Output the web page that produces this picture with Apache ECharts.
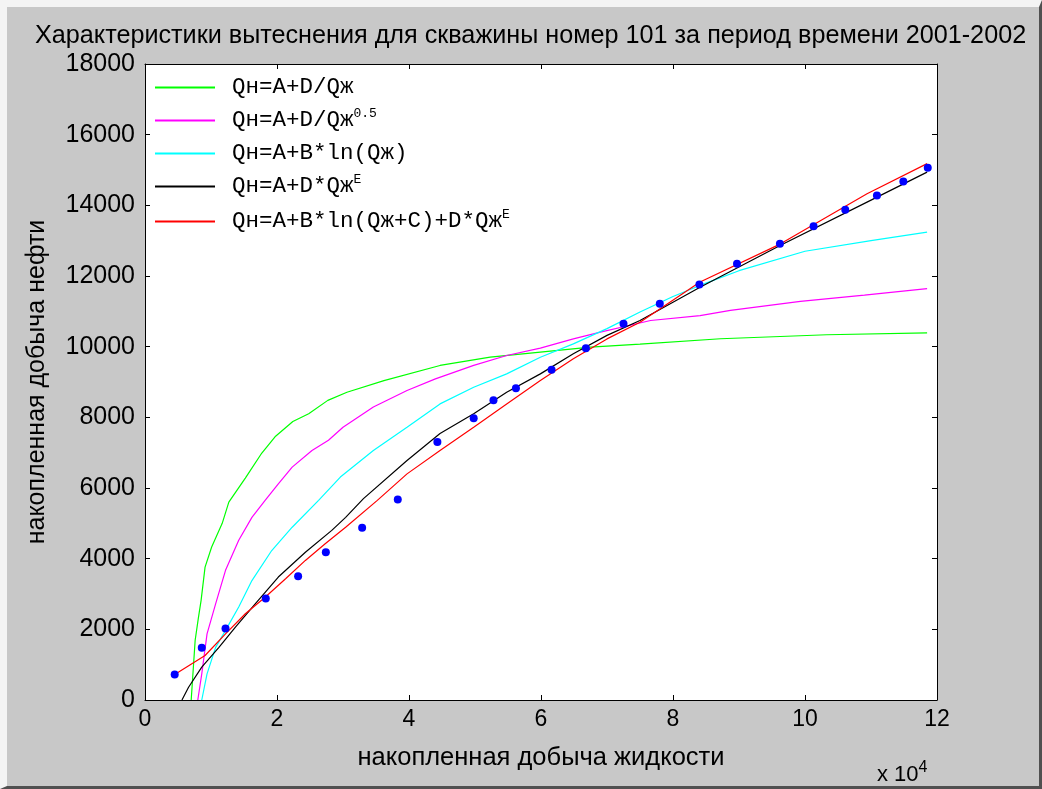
<!DOCTYPE html>
<html>
<head>
<meta charset="UTF-8">
<title>Характеристики вытеснения</title>
<script src="https://cdn.jsdelivr.net/npm/echarts@6/dist/echarts.min.js"></script>
<style>
html, body { margin: 0; padding: 0; }
#frame {
    position: absolute; left: 0; top: 0; width: 1042px; height: 789px;
    box-sizing: border-box; background: #c8c8c8;
    border-top: 7px solid #f4f4f4; border-left: 7px solid #f4f4f4;
    border-right: 3px solid #505050; border-bottom: 3px solid #505050;
}
#chart { position: absolute; left: 0; top: 0; width: 1042px; height: 789px; }
</style>
</head>
<body>
<div id="frame"></div>
<div id="chart"></div>
<script>
// ось X в единицах 10^4
const legendNames = ['Qн=A+D/Qж', 'Qн=A+D/Qж^0.5', 'Qн=A+B*ln(Qж)', 'Qн=A+D*Qж^E', 'Qн=A+B*ln(Qж+C)+D*Qж^E'];
const xTicks = [0, 2, 4, 6, 8, 10, 12];
const yTicks = [0, 2000, 4000, 6000, 8000, 10000, 12000, 14000, 16000, 18000];

// фактические точки
const factX = [0.45, 0.86, 1.22, 1.83, 2.32, 2.74, 3.29, 3.83, 4.43, 4.98, 5.28, 5.62, 6.16, 6.68, 7.25, 7.80, 8.40, 8.97, 9.62, 10.13, 10.61, 11.09, 11.49, 11.86];
const factY = [720, 1477, 2024, 2873, 3504, 4183, 4874, 5675, 7302, 7976, 8486, 8825, 9346, 9958, 10648, 11214, 11760, 12346, 12912, 13410, 13875, 14280, 14676, 15064];

// кривые аппроксимации
const greenX = [0.70, 0.76, 0.81, 0.85, 0.91, 1.01, 1.17, 1.27, 1.52, 1.77, 1.97, 2.24, 2.48, 2.77, 3.06, 3.62, 4.47, 5.23, 5.99, 6.75, 7.50, 8.72, 10.33, 11.85];
const greenY = [0, 1690, 2340, 2820, 3760, 4330, 5000, 5600, 6280, 6990, 7450, 7880, 8100, 8480, 8710, 9040, 9468, 9703, 9844, 9986, 10070, 10224, 10337, 10393];

const magentaX = [0.80, 0.86, 0.94, 1.07, 1.22, 1.42, 1.62, 1.82, 2.02, 2.23, 2.53, 2.78, 3.00, 3.46, 3.97, 4.40, 4.98, 5.48, 5.99, 6.49, 6.90, 7.66, 8.41, 8.87, 9.93, 10.90, 11.85];
const magentaY = [0, 740, 1870, 2720, 3670, 4520, 5170, 5650, 6120, 6590, 7060, 7350, 7720, 8290, 8760, 9090, 9470, 9750, 9960, 10220, 10410, 10740, 10880, 11025, 11280, 11460, 11640];

const cyanX = [0.86, 0.94, 1.07, 1.22, 1.42, 1.62, 1.92, 2.23, 2.63, 2.96, 3.46, 3.97, 4.47, 4.98, 5.48, 5.99, 6.49, 7.00, 7.50, 8.00, 8.50, 9.00, 10.00, 11.00, 11.85];
const cyanY = [0, 740, 1490, 1970, 2630, 3380, 4230, 4890, 5650, 6310, 7060, 7720, 8380, 8850, 9230, 9700, 10080, 10510, 10980, 11420, 11800, 12150, 12700, 13000, 13240];

const blackX = [0.56, 0.66, 0.86, 1.12, 1.37, 1.67, 2.02, 2.43, 2.83, 3.04, 3.31, 3.97, 4.47, 4.98, 5.48, 5.99, 6.49, 7.00, 7.50, 8.41, 9.63, 10.94, 11.85];
const blackY = [0, 360, 930, 1490, 2060, 2720, 3480, 4180, 4800, 5170, 5700, 6780, 7540, 8100, 8710, 9230, 9800, 10320, 10740, 11680, 12870, 14090, 14940];

const redX = [0.45, 0.71, 0.91, 1.22, 1.52, 1.82, 2.13, 2.43, 2.73, 3.04, 3.52, 3.97, 4.47, 4.98, 5.48, 5.99, 6.49, 7.00, 7.50, 8.41, 9.63, 10.94, 11.85];
const redY = [722, 1025, 1260, 1870, 2440, 2910, 3430, 3950, 4420, 4890, 5650, 6400, 7060, 7720, 8380, 9040, 9660, 10220, 10690, 11830, 12910, 14330, 15180];

const zip = (xs, ys) => xs.map((x, i) => [x, ys[i]]);

const legendRich = {
    'Qн=A+D/Qж': '{t|Qн=A+D/Qж}',
    'Qн=A+D/Qж^0.5': '{t|Qн=A+D/Qж}{s|0.5}',
    'Qн=A+B*ln(Qж)': '{t|Qн=A+B*ln(Qж)}',
    'Qн=A+D*Qж^E': '{t|Qн=A+D*Qж}{s|E}',
    'Qн=A+B*ln(Qж+C)+D*Qж^E': '{t|Qн=A+B*ln(Qж+C)+D*Qж}{s|E}'
};

const chart = echarts.init(document.getElementById('chart'));
const sans = 'Liberation Sans';
const mono = 'Liberation Mono';

function lineSeries(name, color, xs, ys) {
    return {
        name: name, type: 'line', data: zip(xs, ys),
        symbol: 'none', smooth: false, animation: false,
        lineStyle: { color: color, width: 1.2 }, itemStyle: { color: color }
    };
}

chart.setOption({
    backgroundColor: 'transparent',
    animation: false,
    title: {
        text: 'Характеристики вытеснения для скважины номер 101 за период времени 2001-2002',
        left: 30, top: 19,
        textStyle: { fontFamily: sans, fontSize: 25.2, fontWeight: 'normal', color: '#000' }
    },
    grid: { left: 145, right: 105, top: 64, bottom: 89 },
    legend: {
        data: legendNames,
        orient: 'vertical', left: 155, top: 76, padding: 0,
        itemWidth: 60, itemHeight: 2, itemGap: 8, icon: 'rect',
        formatter: name => legendRich[name],
        textStyle: {
            padding: [0, 0, 0, 12],
            rich: {
                t: { fontFamily: mono, fontSize: 22.5, color: '#000', lineHeight: 28 },
                s: { fontFamily: mono, fontSize: 13, color: '#000', lineHeight: 14, padding: [0, 0, 14, 0] }
            }
        }
    },
    xAxis: [{
        type: 'value', min: xTicks[0], max: xTicks[xTicks.length - 1], interval: 2, position: 'bottom',
        name: 'накопленная добыча жидкости', nameLocation: 'middle', nameGap: 45,
        nameTextStyle: { fontFamily: sans, fontSize: 25.5, color: '#000' },
        axisLine: { onZero: false, lineStyle: { color: '#000', width: 1 } },
        axisTick: { inside: true, length: 5, lineStyle: { color: '#000' } },
        axisLabel: { fontFamily: sans, fontSize: 23, color: '#000', margin: 8 },
        splitLine: { show: false }
    }, {
        type: 'value', min: xTicks[0], max: xTicks[xTicks.length - 1], interval: 2, position: 'top',
        axisLine: { onZero: false, lineStyle: { color: '#000', width: 1 } },
        axisTick: { inside: true, length: 5, lineStyle: { color: '#000' } },
        axisLabel: { show: false }, splitLine: { show: false }
    }],
    yAxis: [{
        type: 'value', min: yTicks[0], max: yTicks[yTicks.length - 1], interval: 2000, position: 'left',
        name: 'накопленная добыча нефти', nameLocation: 'middle', nameGap: 95,
        nameTextStyle: { fontFamily: sans, fontSize: 25, color: '#000' },
        axisLine: { onZero: false, lineStyle: { color: '#000', width: 1 } },
        axisTick: { inside: true, length: 5, lineStyle: { color: '#000' } },
        axisLabel: { fontFamily: sans, fontSize: 25, color: '#000', margin: 10, formatter: v => String(v) },
        splitLine: { show: false }
    }, {
        type: 'value', min: yTicks[0], max: yTicks[yTicks.length - 1], interval: 2000, position: 'right',
        axisLine: { onZero: false, lineStyle: { color: '#000', width: 1 } },
        axisTick: { inside: true, length: 5, lineStyle: { color: '#000' } },
        axisLabel: { show: false }, splitLine: { show: false }
    }],
    graphic: [{
        type: 'rect', z: -10, silent: true,
        shape: { x: 145, y: 64, width: 792, height: 636 },
        style: { fill: '#fff' }
    }, {
        type: 'text', left: 877, top: 760,
        style: {
            text: '{a|x 10}{b|4}',
            rich: {
                a: { fontFamily: sans, fontSize: 22, color: '#000', lineHeight: 26 },
                b: { fontFamily: sans, fontSize: 16, color: '#000', lineHeight: 16, padding: [0, 0, 14, 0] }
            }
        }
    }],
    series: [
        lineSeries(legendNames[0], '#00ff00', greenX, greenY),
        lineSeries(legendNames[1], '#ff00ff', magentaX, magentaY),
        lineSeries(legendNames[2], '#00ffff', cyanX, cyanY),
        lineSeries(legendNames[3], '#000000', blackX, blackY),
        lineSeries(legendNames[4], '#ff0000', redX, redY),
        {
            name: 'факт', type: 'scatter', data: zip(factX, factY),
            symbol: 'circle', symbolSize: 8, itemStyle: { color: '#0000ff', opacity: 1 }, z: 3
        }
    ]
});
</script>
</body>
</html>
